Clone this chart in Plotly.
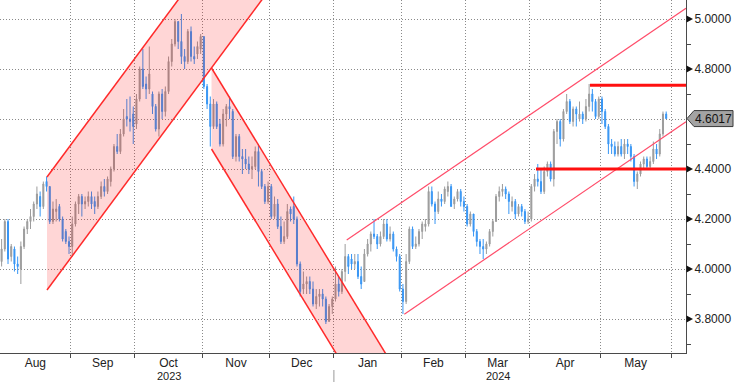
import plotly.graph_objects as go

# ---------------- data (US 10Y yield, daily OHLC, Aug 2023 - May 2024) ----------------
months = ["Aug", "Sep", "Oct", "Nov", "Dec", "Jan", "Feb", "Mar", "Apr", "May"]
month_years = [2023, 2023, 2023, 2023, 2023, 2024, 2024, 2024, 2024, 2024]
bars_per_month = [22, 20, 21, 21, 20, 21, 20, 20, 22, 22]

opens = [
    # Aug
    4.03, 4.08, 4.19, 4.05, 4.08, 4.02, 4.00, 4.09, 4.16, 4.19, 4.21, 4.26, 4.29, 4.25, 4.35, 4.33, 4.19, 4.23, 4.25, 4.20, 4.15, 4.11,
    # Sep
    4.09, 4.18, 4.26, 4.29, 4.26, 4.27, 4.29, 4.27, 4.25, 4.29, 4.33, 4.31, 4.35, 4.40, 4.49, 4.47, 4.54, 4.61, 4.60, 4.62,
    # Oct
    4.58, 4.68, 4.80, 4.74, 4.72, 4.70, 4.65, 4.56, 4.70, 4.63, 4.71, 4.83, 4.90, 4.99, 4.91, 4.85, 4.83, 4.95, 4.85, 4.86, 4.88,
    # Nov
    4.93, 4.73, 4.66, 4.57, 4.66, 4.58, 4.50, 4.62, 4.65, 4.63, 4.45, 4.53, 4.45, 4.44, 4.42, 4.40, 4.41, 4.47, 4.39, 4.33, 4.27,
    # Dec
    4.33, 4.21, 4.26, 4.17, 4.11, 4.13, 4.24, 4.25, 4.20, 4.02, 3.92, 3.94, 3.95, 3.92, 3.86, 3.89, 3.90, 3.88, 3.79, 3.85,
    # Jan
    3.88, 3.94, 3.91, 3.99, 4.05, 4.04, 4.02, 4.03, 3.97, 3.95, 4.06, 4.10, 4.14, 4.13, 4.10, 4.13, 4.18, 4.12, 4.14, 4.08, 4.05,
    # Feb
    3.92, 3.87, 4.03, 4.16, 4.09, 4.10, 4.15, 4.17, 4.18, 4.31, 4.26, 4.23, 4.28, 4.27, 4.31, 4.33, 4.26, 4.28, 4.31, 4.27,
    # Mar
    4.25, 4.18, 4.22, 4.15, 4.11, 4.09, 4.08, 4.10, 4.15, 4.19, 4.29, 4.31, 4.32, 4.30, 4.25, 4.27, 4.22, 4.25, 4.23, 4.19,
    # Apr
    4.20, 4.33, 4.36, 4.35, 4.31, 4.39, 4.42, 4.36, 4.55, 4.59, 4.52, 4.63, 4.67, 4.59, 4.64, 4.60, 4.62, 4.60, 4.65, 4.70, 4.67, 4.61,
    # May
    4.68, 4.63, 4.57, 4.50, 4.49, 4.46, 4.49, 4.46, 4.50, 4.49, 4.45, 4.35, 4.38, 4.42, 4.44, 4.41, 4.43, 4.48, 4.46, 4.54, 4.62,
]
highs = [
    4.12, 4.20, 4.20, 4.10, 4.09, 4.05, 4.11, 4.17, 4.20, 4.24, 4.27, 4.33, 4.31, 4.35, 4.37, 4.33, 4.27, 4.28, 4.26, 4.21, 4.16, 4.13,
    4.21, 4.27, 4.30, 4.30, 4.29, 4.31, 4.31, 4.29, 4.31, 4.35, 4.36, 4.37, 4.41, 4.50, 4.54, 4.56, 4.64, 4.68, 4.69, 4.65,
    4.70, 4.81, 4.88, 4.77, 4.89, 4.71, 4.66, 4.71, 4.72, 4.73, 4.85, 4.92, 5.00, 4.99, 5.02, 4.88, 4.96, 4.97, 4.89, 4.91, 4.94,
    4.93, 4.74, 4.69, 4.68, 4.67, 4.60, 4.64, 4.66, 4.69, 4.64, 4.54, 4.54, 4.48, 4.48, 4.45, 4.45, 4.49, 4.50, 4.40, 4.34, 4.35,
    4.34, 4.29, 4.28, 4.21, 4.19, 4.26, 4.25, 4.29, 4.21, 4.03, 3.99, 3.97, 3.97, 3.95, 3.92, 3.92, 3.92, 3.89, 3.86, 3.89,
    4.01, 3.97, 4.00, 4.10, 4.06, 4.06, 4.06, 4.06, 4.01, 4.08, 4.12, 4.15, 4.20, 4.14, 4.15, 4.20, 4.20, 4.17, 4.15, 4.09, 4.06,
    3.94, 4.06, 4.17, 4.17, 4.13, 4.16, 4.19, 4.20, 4.33, 4.33, 4.27, 4.31, 4.30, 4.33, 4.35, 4.34, 4.29, 4.32, 4.32, 4.29,
    4.26, 4.23, 4.22, 4.16, 4.12, 4.12, 4.11, 4.16, 4.20, 4.30, 4.33, 4.34, 4.33, 4.31, 4.29, 4.28, 4.26, 4.26, 4.24, 4.23,
    4.34, 4.38, 4.42, 4.40, 4.41, 4.43, 4.43, 4.56, 4.60, 4.60, 4.64, 4.70, 4.68, 4.65, 4.65, 4.67, 4.63, 4.68, 4.74, 4.72, 4.68, 4.69,
    4.69, 4.64, 4.58, 4.52, 4.51, 4.51, 4.52, 4.52, 4.52, 4.50, 4.46, 4.39, 4.43, 4.45, 4.45, 4.45, 4.51, 4.50, 4.56, 4.63, 4.63,
]
lows = [
    4.01, 4.07, 4.02, 4.03, 3.99, 3.98, 3.94, 4.08, 4.14, 4.16, 4.19, 4.24, 4.21, 4.24, 4.31, 4.18, 4.18, 4.19, 4.19, 4.11, 4.10, 4.06,
    4.05, 4.17, 4.22, 4.21, 4.24, 4.25, 4.24, 4.22, 4.24, 4.28, 4.29, 4.30, 4.33, 4.39, 4.46, 4.46, 4.53, 4.57, 4.55, 4.50,
    4.56, 4.67, 4.72, 4.68, 4.70, 4.62, 4.55, 4.53, 4.60, 4.61, 4.70, 4.81, 4.89, 4.88, 4.82, 4.80, 4.82, 4.83, 4.82, 4.84, 4.86,
    4.72, 4.64, 4.49, 4.56, 4.56, 4.49, 4.49, 4.57, 4.60, 4.44, 4.43, 4.43, 4.38, 4.40, 4.38, 4.36, 4.40, 4.33, 4.32, 4.26, 4.26,
    4.20, 4.20, 4.16, 4.10, 4.10, 4.12, 4.19, 4.18, 4.01, 3.89, 3.90, 3.90, 3.90, 3.85, 3.84, 3.85, 3.85, 3.78, 3.79, 3.82,
    3.87, 3.89, 3.90, 3.95, 3.98, 4.00, 4.00, 3.96, 3.92, 3.95, 4.05, 4.07, 4.12, 4.08, 4.09, 4.12, 4.11, 4.11, 4.07, 4.03, 3.91,
    3.82, 3.86, 4.02, 4.08, 4.08, 4.09, 4.12, 4.15, 4.17, 4.25, 4.18, 4.22, 4.25, 4.26, 4.29, 4.25, 4.24, 4.27, 4.25, 4.23,
    4.17, 4.17, 4.13, 4.09, 4.06, 4.04, 4.06, 4.09, 4.13, 4.19, 4.27, 4.29, 4.28, 4.22, 4.23, 4.20, 4.21, 4.21, 4.18, 4.18,
    4.19, 4.31, 4.33, 4.30, 4.30, 4.37, 4.35, 4.33, 4.50, 4.49, 4.51, 4.62, 4.58, 4.57, 4.57, 4.59, 4.58, 4.59, 4.63, 4.63, 4.60, 4.60,
    4.58, 4.56, 4.46, 4.46, 4.45, 4.45, 4.45, 4.44, 4.46, 4.43, 4.33, 4.32, 4.37, 4.40, 4.40, 4.40, 4.42, 4.44, 4.45, 4.53, 4.60,
]
closes = [
    4.08, 4.19, 4.04, 4.09, 4.02, 4.01, 4.09, 4.16, 4.19, 4.21, 4.26, 4.30, 4.25, 4.34, 4.33, 4.19, 4.24, 4.24, 4.20, 4.12, 4.11, 4.09,
    4.18, 4.26, 4.29, 4.26, 4.27, 4.29, 4.26, 4.25, 4.29, 4.33, 4.31, 4.36, 4.40, 4.49, 4.47, 4.54, 4.60, 4.60, 4.59, 4.57,
    4.68, 4.80, 4.73, 4.72, 4.78, 4.65, 4.56, 4.70, 4.63, 4.71, 4.83, 4.90, 4.99, 4.91, 4.85, 4.83, 4.95, 4.85, 4.84, 4.89, 4.93,
    4.73, 4.66, 4.57, 4.66, 4.57, 4.50, 4.62, 4.65, 4.64, 4.45, 4.53, 4.45, 4.44, 4.42, 4.40, 4.41, 4.47, 4.39, 4.33, 4.27, 4.33,
    4.21, 4.26, 4.17, 4.11, 4.13, 4.23, 4.22, 4.20, 4.02, 3.91, 3.94, 3.95, 3.92, 3.86, 3.89, 3.90, 3.88, 3.79, 3.85, 3.88,
    3.94, 3.91, 3.99, 4.05, 4.01, 4.02, 4.03, 3.97, 3.94, 4.06, 4.10, 4.14, 4.13, 4.10, 4.13, 4.18, 4.12, 4.14, 4.08, 4.05, 3.92,
    3.87, 4.03, 4.16, 4.09, 4.10, 4.15, 4.18, 4.18, 4.31, 4.26, 4.23, 4.28, 4.27, 4.32, 4.33, 4.25, 4.28, 4.31, 4.27, 4.25,
    4.18, 4.22, 4.15, 4.11, 4.09, 4.08, 4.10, 4.15, 4.19, 4.29, 4.31, 4.32, 4.30, 4.27, 4.27, 4.22, 4.25, 4.23, 4.19, 4.20,
    4.33, 4.36, 4.35, 4.31, 4.39, 4.42, 4.36, 4.55, 4.59, 4.52, 4.63, 4.67, 4.59, 4.64, 4.62, 4.62, 4.60, 4.65, 4.70, 4.67, 4.61, 4.68,
    4.63, 4.57, 4.50, 4.49, 4.46, 4.49, 4.46, 4.50, 4.49, 4.45, 4.35, 4.38, 4.42, 4.44, 4.41, 4.43, 4.48, 4.46, 4.54, 4.62, 4.6017,
]

y_ticks = [3.8, 4.0, 4.2, 4.4, 4.6, 4.8, 5.0]
y_minor = [3.7, 3.9, 4.1, 4.3, 4.5, 4.7, 4.9]

# hand-drawn studies (bar index, yield)
chan1_x = [14.14, 100.0]          # rising channel Aug-Oct 2023 (filled)
chan1_top = [4.368, 5.857]
chan1_bot = [3.916, 5.405]
chan2_x = [65.38, 130.0]          # falling channel Nov-Dec 2023 (filled)
chan2_top = [4.804, 3.443]
chan2_bot = [4.480, 3.119]
chan3_top_x = [107.49, 213.17]    # rising channel 2024
chan3_top = [4.116, 5.043]
chan3_bot_x = [125.43, 213.17]
chan3_bot = [3.819, 4.589]
hline_hi_x = [183.27, 213.17]
hline_hi = 4.735
hline_lo_x = [166.45, 213.17]
hline_lo = 4.40

# ---------------- figure ----------------
n = len(closes)
x = list(range(n))
x_min, x_max = -0.5, 213.17
y_min, y_max = 3.664, 5.076

bounds = []
c = 0
for b in bars_per_month:
    c += b
    bounds.append(c - 0.5)
starts = [-0.5] + bounds[:-1]
centres = [(s + e) / 2 for s, e in zip(starts, bounds)]
year_labels = []
for yy in sorted(set(month_years)):
    idx = [j for j, v in enumerate(month_years) if v == yy]
    year_labels.append((centres[idx[len(idx) // 2]], str(yy)))
year_sep = [bounds[i] for i in range(len(months) - 1) if month_years[i] != month_years[i + 1]]

BLUE = "#3896f4"
GRAY = "#9c9c9c"
RED = "#ff2a2a"
PINK_LINE = "#ff4d6a"
FONT = "Liberation Sans, Arial, sans-serif"
TXT = "#222222"

fig = go.Figure()
fig.add_trace(go.Candlestick(
    x=x, open=opens, high=highs, low=lows, close=closes,
    increasing=dict(line=dict(color=GRAY, width=1), fillcolor=GRAY),
    decreasing=dict(line=dict(color=BLUE, width=1), fillcolor=BLUE),
    whiskerwidth=0, showlegend=False, hoverinfo="skip",
))

shapes = []
fill = "rgba(255,0,0,0.16)"
for cx, ct, cb in [(chan1_x, chan1_top, chan1_bot), (chan2_x, chan2_top, chan2_bot)]:
    path = f"M {cx[0]},{ct[0]} L {cx[1]},{ct[1]} L {cx[1]},{cb[1]} L {cx[0]},{cb[0]} Z"
    shapes.append(dict(type="path", path=path, xref="x", yref="y", fillcolor=fill,
                       line=dict(width=0), layer="above"))
    shapes.append(dict(type="line", x0=cx[0], x1=cx[1], y0=ct[0], y1=ct[1], xref="x", yref="y",
                       line=dict(color=RED, width=1.5)))
    shapes.append(dict(type="line", x0=cx[0], x1=cx[1], y0=cb[0], y1=cb[1], xref="x", yref="y",
                       line=dict(color=RED, width=1.5)))
shapes.append(dict(type="line", x0=chan3_top_x[0], x1=chan3_top_x[1], y0=chan3_top[0], y1=chan3_top[1],
                   xref="x", yref="y", line=dict(color=PINK_LINE, width=1.2)))
shapes.append(dict(type="line", x0=chan3_bot_x[0], x1=chan3_bot_x[1], y0=chan3_bot[0], y1=chan3_bot[1],
                   xref="x", yref="y", line=dict(color=PINK_LINE, width=1.2)))
for hx, hv in [(hline_hi_x, hline_hi), (hline_lo_x, hline_lo)]:
    shapes.append(dict(type="line", x0=hx[0], x1=hx[1], y0=hv, y1=hv, xref="x", yref="y",
                       line=dict(color="#ff1010", width=3)))

plot_w, plot_h = 686, 353
px_x = 1.0 / plot_w
px_p = 1.0 / plot_h


def yp(v):
    return (v - y_min) / (y_max - y_min)


# right-axis arrow markers
for v in y_ticks:
    if abs(v - 4.6) < 1e-9:
        continue
    path = (f"M {1.0 + 0.5 * px_x},{yp(v) + 3.5 * px_p} L {1.0 + 7 * px_x},{yp(v)} "
            f"L {1.0 + 0.5 * px_x},{yp(v) - 3.5 * px_p} Z")
    shapes.append(dict(type="path", path=path, xref="paper", yref="paper", fillcolor="#111111",
                       line=dict(width=0)))

# last value label
last = closes[-1]
ly = yp(last)
lp = (f"M {1.0 + 1 * px_x},{ly} L {1.0 + 8 * px_x},{ly + 8 * px_p} "
      f"L {1.0 + 47 * px_x},{ly + 8 * px_p} L {1.0 + 47 * px_x},{ly - 8 * px_p} "
      f"L {1.0 + 8 * px_x},{ly - 8 * px_p} Z")
shapes.append(dict(type="path", path=lp, xref="paper", yref="paper", fillcolor="#a3a3a3",
                   line=dict(color="#3a3a3a", width=1)))

# year separator tick below the axis
for ys in year_sep:
    shapes.append(dict(type="line", x0=ys, x1=ys, y0=-17 * px_p, y1=-29 * px_p,
                       xref="x", yref="paper", line=dict(color="#9a9a9a", width=1)))

annotations = [dict(x=1.0 + 27.5 * px_x, y=ly, xref="paper", yref="paper",
                    text=f"{last:.4f}", showarrow=False, xanchor="center", yanchor="middle",
                    font=dict(family=FONT, size=12, color="#111111"))]
for xc, t in year_labels:
    annotations.append(dict(x=xc, y=-23 * px_p, xref="x", yref="paper", text=t, showarrow=False,
                            xanchor="center", yanchor="middle",
                            font=dict(family=FONT, size=11, color=TXT)))

fig.update_layout(
    width=735, height=382,
    margin=dict(l=0, r=49, t=0, b=29),
    paper_bgcolor="white", plot_bgcolor="white",
    showlegend=False,
    boxgap=0.55,
    shapes=shapes,
    annotations=annotations,
    font=dict(family=FONT, size=12, color=TXT),
)
fig.update_xaxes(
    type="linear", range=[x_min, x_max], rangeslider=dict(visible=False),
    tickmode="array", tickvals=centres, ticktext=months, ticks="",
    ticklabelstandoff=-1,
    showgrid=False, zeroline=False,
    showline=True, linecolor="#4a4a4a", linewidth=1,
    tickfont=dict(family=FONT, size=12, color=TXT),
    minor=dict(tickmode="array", tickvals=bounds, ticks="outside", ticklen=4,
               tickcolor="#4a4a4a", showgrid=True, gridcolor="#8a8a8a", griddash="1px,2px", gridwidth=1),
)
fig.update_yaxes(
    side="right", range=[y_min, y_max],
    tickmode="array", tickvals=y_ticks,
    ticktext=["" if abs(v - 4.6) < 1e-9 else f"{v:.4f}" for v in y_ticks],
    ticks="outside", ticklen=5, tickcolor="rgba(0,0,0,0)",
    showgrid=True, gridcolor="#8a8a8a", griddash="1px,2px", gridwidth=1,
    zeroline=False, showline=True, linecolor="#4a4a4a", linewidth=1,
    tickfont=dict(family=FONT, size=12, color=TXT),
    minor=dict(tickmode="array", tickvals=y_minor, ticks="outside", ticklen=4,
               tickcolor="#4a4a4a", showgrid=False),
)

fig.write_html(
    "out.html",
    config={"displayModeBar": False, "staticPlot": True},
    post_script="document.body.style.margin='0';document.body.style.overflow='hidden';",
)
